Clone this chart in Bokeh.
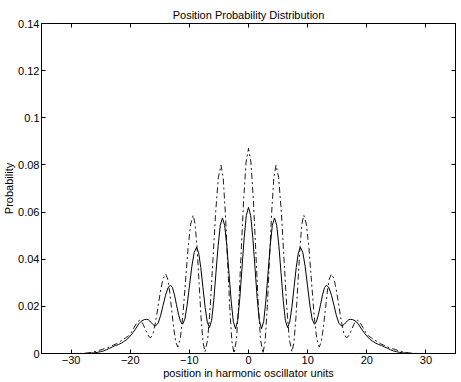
from bokeh.plotting import figure
from bokeh.models import Range1d, LinearAxis, FixedTicker
from bokeh.embed import file_html
from bokeh.resources import INLINE

# ---------------- data ----------------
title_text = "Position Probability Distribution"
x_label = "position in harmonic oscillator units"
y_label = "Probability"

x_ticks = [-30, -20, -10, 0, 10, 20, 30]
y_ticks = [0, 0.02, 0.04, 0.06, 0.08, 0.1, 0.12, 0.14]
y_tick_labels = ["0", "0.02", "0.04", "0.06", "0.08", "0.1", "0.12", "0.14"]

# solid curve
solid_x = [-30.0, -28.0, -27.0, -26.0, -25.5, -25.0, -24.5, -24.0, -23.5, -23.0, -22.5, -22.0,
           -21.5, -21.0, -20.5, -20.0, -19.5, -19.0, -18.5, -18.0, -17.6, -17.2,
           -16.95, -16.7, -16.45, -16.2, -15.95, -15.7,
           -15.28, -14.87, -14.45, -14.03, -13.62, -13.2,
           -12.86, -12.52, -12.18, -11.83, -11.49, -11.15,
           -10.76, -10.37, -9.98, -9.58, -9.19, -8.8,
           -8.43, -8.07, -7.7, -7.33, -6.97, -6.6,
           -6.23, -5.87, -5.5, -5.13, -4.77, -4.4,
           -4.03, -3.67, -3.3, -2.93, -2.57, -2.2,
           -1.83, -1.47, -1.1, -0.73, -0.37,
           0.0, 0.37, 0.73, 1.1, 1.47, 1.83, 2.2,
           2.57, 2.93, 3.3, 3.67, 4.03, 4.4,
           4.77, 5.13, 5.5, 5.87, 6.23, 6.6,
           6.97, 7.33, 7.7, 8.07, 8.43, 8.8,
           9.19, 9.58, 9.98, 10.37, 10.76, 11.15,
           11.49, 11.83, 12.18, 12.52, 12.86, 13.2,
           13.62, 14.03, 14.45, 14.87, 15.28, 15.7,
           15.95, 16.2, 16.45, 16.7, 16.95, 17.2,
           17.6, 18.0, 18.5, 19.0, 19.5, 20.0, 20.5, 21.0, 21.5, 22.0, 22.5,
           23.0, 23.5, 24.0, 24.5, 25.0, 25.5, 26.0, 27.0, 28.0, 30.0]
solid_y = [0.0, 0.0, 0.0001, 0.0003, 0.0005, 0.0008, 0.0011, 0.0016, 0.0022, 0.0028, 0.0034, 0.0038,
           0.0044, 0.0052, 0.0061, 0.0074, 0.0090, 0.0108, 0.0128, 0.0139, 0.0144, 0.0145,
           0.0143, 0.0138, 0.0131, 0.0124, 0.0119, 0.0117,
           0.0129, 0.0160, 0.0204, 0.0247, 0.0278, 0.0290,
           0.0280, 0.0249, 0.0207, 0.0166, 0.0135, 0.0124,
           0.0146, 0.0206, 0.0287, 0.0369, 0.0428, 0.0450,
           0.0427, 0.0365, 0.0280, 0.0195, 0.0133, 0.0110,
           0.0141, 0.0226, 0.0343, 0.0459, 0.0544, 0.0575,
           0.0544, 0.0458, 0.0340, 0.0223, 0.0136, 0.0105,
           0.0140, 0.0234, 0.0363, 0.0491, 0.0585,
           0.0620, 0.0585, 0.0491, 0.0363, 0.0234, 0.0140, 0.0105,
           0.0136, 0.0223, 0.0340, 0.0458, 0.0544, 0.0575,
           0.0544, 0.0459, 0.0343, 0.0226, 0.0141, 0.0110,
           0.0133, 0.0195, 0.0280, 0.0365, 0.0427, 0.0450,
           0.0428, 0.0369, 0.0287, 0.0206, 0.0146, 0.0124,
           0.0135, 0.0166, 0.0207, 0.0249, 0.0280, 0.0290,
           0.0278, 0.0247, 0.0204, 0.0160, 0.0129, 0.0117,
           0.0119, 0.0124, 0.0131, 0.0138, 0.0143, 0.0145,
           0.0144, 0.0139, 0.0128, 0.0108, 0.0090, 0.0074, 0.0061, 0.0052, 0.0044, 0.0038, 0.0034,
           0.0028, 0.0022, 0.0016, 0.0011, 0.0008, 0.0005, 0.0003, 0.0001, 0.0, 0.0]

# dash-dot curve
dashdot_x = [-30.0, -29.0, -28.0, -27.2, -26.5, -25.8, -25.3, -24.8, -24.3, -23.8, -23.3, -22.8,
             -22.3, -21.8, -21.3, -20.8, -20.3, -19.8, -19.3, -18.8,
             -18.4, -18.09, -17.78, -17.48, -17.17, -16.86,
             -16.55, -16.13, -15.7, -15.28, -14.85, -14.43,
             -14.0, -13.66, -13.32, -12.98, -12.63, -12.29,
             -11.95, -11.52, -11.08, -10.65, -10.22, -9.78,
             -9.35, -9.02, -8.68, -8.35, -8.02, -7.68,
             -7.35, -6.9, -6.45, -6.0, -5.55, -5.1,
             -4.65, -4.28, -3.92, -3.55, -3.18, -2.82,
             -2.45, -2.04, -1.63, -1.23, -0.82, -0.41,
             0.0, 0.41, 0.82, 1.23, 1.63, 2.04, 2.45,
             2.82, 3.18, 3.55, 3.92, 4.28, 4.65,
             5.1, 5.55, 6.0, 6.45, 6.9, 7.35,
             7.68, 8.02, 8.35, 8.68, 9.02, 9.35,
             9.78, 10.22, 10.65, 11.08, 11.52, 11.95,
             12.29, 12.63, 12.98, 13.32, 13.66, 14.0,
             14.43, 14.85, 15.28, 15.7, 16.13, 16.55,
             16.86, 17.17, 17.48, 17.78, 18.09, 18.4,
             18.8, 19.3, 19.8, 20.3, 20.8, 21.3, 21.8, 22.3, 22.8, 23.3,
             23.8, 24.3, 24.8, 25.3, 25.8, 26.5, 27.2, 28.0, 29.0, 30.0]
dashdot_y = [0.0, 0.0, 0.00005, 0.0002, 0.0005, 0.0009, 0.0013, 0.0017, 0.0021, 0.0025, 0.0030, 0.0036,
             0.0042, 0.0050, 0.0058, 0.0066, 0.0074, 0.0090, 0.0112, 0.0134,
             0.0141, 0.0136, 0.0122, 0.0104, 0.0086, 0.0072,
             0.0067, 0.0085, 0.0135, 0.0202, 0.0270, 0.0319,
             0.0337, 0.0316, 0.0260, 0.0182, 0.0105, 0.0048,
             0.0027, 0.0065, 0.0167, 0.0307, 0.0447, 0.0549,
             0.0587, 0.0548, 0.0442, 0.0297, 0.0152, 0.0046,
             0.0007, 0.0060, 0.0205, 0.0403, 0.0601, 0.0746,
             0.0799, 0.0745, 0.0599, 0.0400, 0.0200, 0.0054,
             0.0, 0.0058, 0.0218, 0.0435, 0.0653, 0.0812,
             0.0870, 0.0812, 0.0653, 0.0435, 0.0218, 0.0058, 0.0,
             0.0054, 0.0200, 0.0400, 0.0599, 0.0745, 0.0799,
             0.0746, 0.0601, 0.0403, 0.0205, 0.0060, 0.0007,
             0.0046, 0.0152, 0.0297, 0.0442, 0.0548, 0.0587,
             0.0549, 0.0447, 0.0307, 0.0167, 0.0065, 0.0027,
             0.0048, 0.0105, 0.0182, 0.0260, 0.0316, 0.0337,
             0.0319, 0.0270, 0.0202, 0.0135, 0.0085, 0.0067,
             0.0072, 0.0086, 0.0104, 0.0122, 0.0136, 0.0141,
             0.0134, 0.0112, 0.0090, 0.0074, 0.0066, 0.0058, 0.0050, 0.0042, 0.0036, 0.0030,
             0.0025, 0.0021, 0.0017, 0.0013, 0.0009, 0.0005, 0.0002, 0.00005, 0.0, 0.0]

# ---------------- figure ----------------
FONT = "Liberation Sans"

p = figure(width=461, height=382, output_backend="svg", toolbar_location=None,
           x_range=Range1d(-35, 35), y_range=Range1d(0, 0.14),
           x_axis_location=None, y_axis_location=None,
           min_border_left=40, min_border_right=6, min_border_top=23, min_border_bottom=29)
p.background_fill_color = "white"
p.border_fill_color = "white"
p.outline_line_color = "black"
p.outline_line_width = 1
p.xgrid.visible = False
p.ygrid.visible = False

p.title.text = title_text
p.title.align = "center"
p.title.text_font = FONT
p.title.text_font_size = "11px"
p.title.text_font_style = "normal"
p.title.text_color = "black"
p.title.standoff = 5
p.title.offset = 0

def style_axis(ax, show_labels):
    ax.axis_line_color = "black"
    ax.axis_line_width = 1
    ax.major_tick_line_color = "black"
    ax.major_tick_in = 4
    ax.major_tick_out = 0
    ax.minor_tick_line_color = None
    ax.major_label_text_font = FONT
    if show_labels:
        ax.major_label_text_color = "black"
        ax.major_label_text_font_size = "11px"
        ax.major_label_standoff = 2
    else:
        ax.major_label_text_color = None
        ax.major_label_text_font_size = "0px"
        ax.major_label_standoff = 0
    ax.axis_label_text_font = FONT
    ax.axis_label_text_font_size = "11px"
    ax.axis_label_text_font_style = "normal"
    ax.axis_label_text_color = "black"
    ax.axis_label_standoff = 0

xb = LinearAxis(ticker=FixedTicker(ticks=x_ticks), axis_label=x_label)
style_axis(xb, True)
p.add_layout(xb, "below")

xt = LinearAxis(ticker=FixedTicker(ticks=x_ticks))
style_axis(xt, False)
p.add_layout(xt, "above")

yl = LinearAxis(ticker=FixedTicker(ticks=y_ticks), axis_label=y_label)
yl.major_label_overrides = {t: s for t, s in zip(y_ticks, y_tick_labels)}
style_axis(yl, True)
p.add_layout(yl, "left")

yr = LinearAxis(ticker=FixedTicker(ticks=y_ticks))
style_axis(yr, False)
p.add_layout(yr, "right")

p.line(solid_x, solid_y, line_color="black", line_width=1)
p.line(dashdot_x, dashdot_y, line_color="black", line_width=0.9, line_dash="6 3 2 3")

open("out.html", "w").write(file_html(p, INLINE))
